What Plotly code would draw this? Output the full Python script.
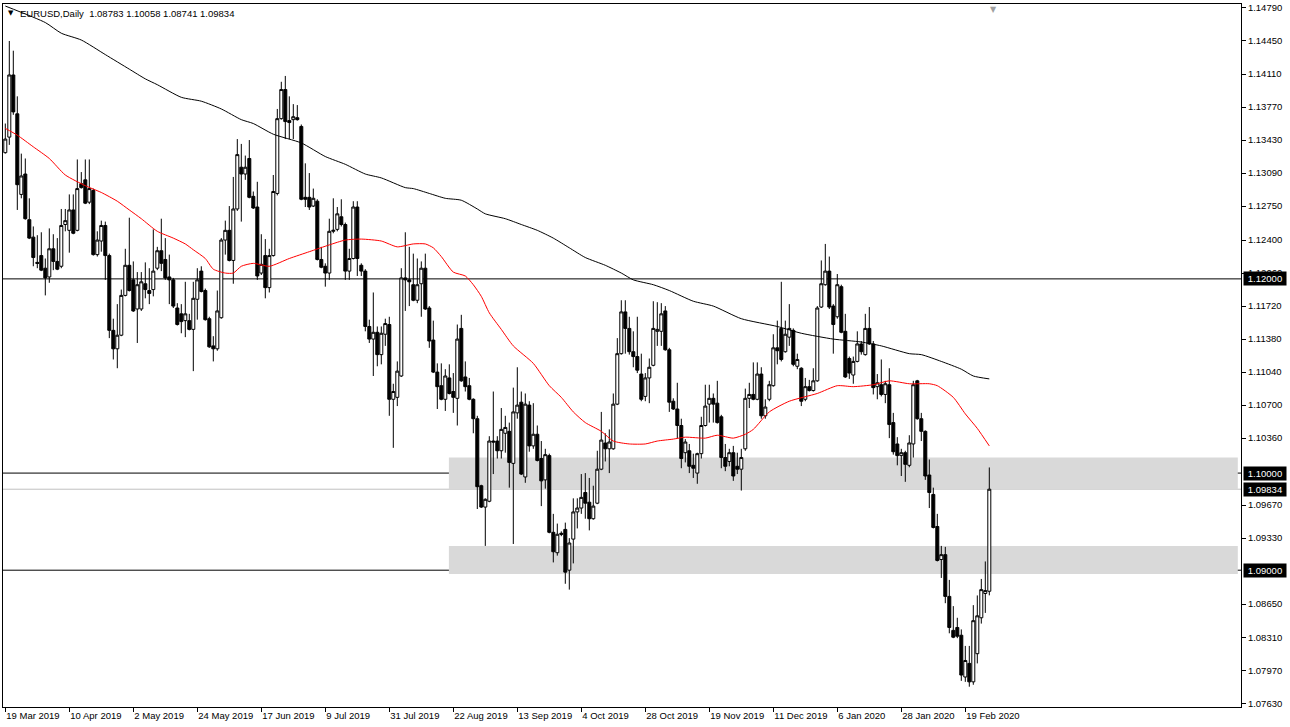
import plotly.graph_objects as go

# ---------------- data ----------------
date_labels = ["19 Mar 2019", "10 Apr 2019", "2 May 2019", "24 May 2019", "17 Jun 2019",
               "9 Jul 2019", "31 Jul 2019", "22 Aug 2019", "13 Sep 2019", "4 Oct 2019",
               "28 Oct 2019", "19 Nov 2019", "11 Dec 2019", "6 Jan 2020", "28 Jan 2020",
               "19 Feb 2020"]
date_label_bars = [0, 16, 32, 48, 64, 80, 96, 112, 128, 144, 160, 176, 192, 208, 224, 240]

opens = [
    1.1330, 1.1346, 1.1410, 1.1370, 1.1287, 1.1308, 1.1261, 1.1243, 1.1217, 1.1224,
    1.1211, 1.1202, 1.1231, 1.1218, 1.1213, 1.1256, 1.1250, 1.1271, 1.1250, 1.1298,
    1.1302, 1.1279, 1.1291, 1.1225, 1.1239, 1.1255, 1.1224, 1.1147, 1.1128, 1.1142,
    1.1183, 1.1214, 1.1199, 1.1169, 1.1169, 1.1195, 1.1188, 1.1189, 1.1211, 1.1229,
    1.1220, 1.1202, 1.1199, 1.1170, 1.1164, 1.1157, 1.1157, 1.1148, 1.1179, 1.1208,
    1.1188, 1.1159, 1.1131, 1.1128, 1.1160, 1.1240, 1.1250, 1.1219, 1.1272, 1.1315,
    1.1308, 1.1324, 1.1285, 1.1274, 1.1206, 1.1224, 1.1191, 1.1224, 1.1288, 1.1365,
    1.1395, 1.1363, 1.1364, 1.1366, 1.1357, 1.1284, 1.1284, 1.1275, 1.1280, 1.1220,
    1.1213, 1.1206, 1.1249, 1.1251, 1.1264, 1.1256, 1.1208, 1.1221, 1.1274, 1.1214,
    1.1208, 1.1151, 1.1138, 1.1145, 1.1122, 1.1143, 1.1153, 1.1076, 1.1078, 1.1100,
    1.1201, 1.1199, 1.1194, 1.1178, 1.1195, 1.1211, 1.1170, 1.1137, 1.1104, 1.1090,
    1.1076, 1.1098, 1.1084, 1.1077, 1.1149, 1.1099, 1.1090, 1.1076, 1.1056, 1.0987,
    1.0965, 1.0971, 1.1033, 1.1033, 1.1023, 1.1041, 1.1043, 1.1010, 1.1062, 1.1073,
    1.0996, 1.1070, 1.1028, 1.1040, 1.1015, 1.0993, 1.1018, 1.0939, 1.0918, 1.0938,
    1.0942, 1.0900, 1.0932, 1.0960, 1.0964, 1.0980, 1.0970, 1.0953, 1.0969, 1.1004,
    1.1031, 1.1025, 1.1025, 1.1071, 1.1123, 1.1166, 1.1149, 1.1125, 1.1120, 1.1102,
    1.1079, 1.1098, 1.1111, 1.1146, 1.1146, 1.1167, 1.1127, 1.1074, 1.1066, 1.1049,
    1.1021, 1.1023, 1.1008, 1.1000, 1.1020, 1.1049, 1.1071, 1.1077, 1.1072, 1.1058,
    1.1016, 1.1012, 1.1021, 1.1007, 1.1004, 1.1025, 1.1077, 1.1081, 1.1076, 1.1102,
    1.1059, 1.1076, 1.1090, 1.1129, 1.1149, 1.1125, 1.1140, 1.1147, 1.1110, 1.1108,
    1.1076, 1.1089, 1.1085, 1.1095, 1.1171, 1.1194, 1.1208, 1.1172, 1.1161, 1.1192,
    1.1146, 1.1118, 1.1101, 1.1115, 1.1133, 1.1122, 1.1149, 1.1133, 1.1089, 1.1091,
    1.1081, 1.1091, 1.1052, 1.1030, 1.1018, 1.1021, 1.1008, 1.1030, 1.1095, 1.1056,
    1.1043, 1.0998, 1.0978, 1.0945, 1.0911, 1.0916, 1.0873, 1.0838, 1.0841, 1.0833,
    1.0790, 1.0804, 1.0785, 1.0814, 1.0851, 1.0876, 1.08783]

highs = [
    1.1360, 1.1445, 1.1435, 1.1388, 1.1329, 1.1324, 1.1283, 1.1254, 1.1245, 1.1248,
    1.1221, 1.1252, 1.1246, 1.1242, 1.1272, 1.1272, 1.1287, 1.1287, 1.1323, 1.1310,
    1.1323, 1.1323, 1.1293, 1.1249, 1.1260, 1.1259, 1.1226, 1.1159, 1.1174, 1.1189,
    1.1231, 1.1263, 1.1218, 1.1207, 1.1207, 1.1217, 1.1211, 1.1251, 1.1233, 1.1262,
    1.1242, 1.1225, 1.1201, 1.1175, 1.1174, 1.1197, 1.1164, 1.1197, 1.1211, 1.1213,
    1.1190, 1.1161, 1.1141, 1.1188, 1.1242, 1.1260, 1.1275, 1.1305, 1.1344, 1.1339,
    1.1327, 1.1343, 1.1290, 1.1300, 1.1246, 1.1241, 1.1231, 1.1307, 1.1375, 1.1403,
    1.1409, 1.1388, 1.1380, 1.1379, 1.1359, 1.1319, 1.1309, 1.1293, 1.1282, 1.1233,
    1.1216, 1.1262, 1.1283, 1.1274, 1.1282, 1.1258, 1.1231, 1.1280, 1.1280, 1.1216,
    1.1210, 1.1158, 1.1186, 1.1151, 1.1151, 1.1159, 1.1161, 1.1092, 1.1115, 1.1211,
    1.1248, 1.1233, 1.1226, 1.1221, 1.1218, 1.1226, 1.1172, 1.1157, 1.1113, 1.1113,
    1.1107, 1.1112, 1.1103, 1.1153, 1.1163, 1.1115, 1.1098, 1.1077, 1.1059, 1.0988,
    1.0974, 1.1038, 1.1084, 1.1038, 1.1067, 1.1059, 1.1052, 1.1088, 1.1109, 1.1084,
    1.1082, 1.1074, 1.1072, 1.1049, 1.1033, 1.1025, 1.1020, 1.0958, 1.0948, 1.0940,
    1.0949, 1.0933, 1.0974, 1.0974, 1.0999, 1.1000, 1.0995, 1.0987, 1.1023, 1.1063,
    1.1041, 1.1045, 1.1082, 1.1139, 1.1178, 1.1178, 1.1161, 1.1146, 1.1161, 1.1123,
    1.1103, 1.1118, 1.1177, 1.1176, 1.1175, 1.1172, 1.1129, 1.1077, 1.1093, 1.1056,
    1.1035, 1.1030, 1.1020, 1.1021, 1.1058, 1.1091, 1.1091, 1.1082, 1.1095, 1.1060,
    1.1030, 1.1025, 1.1028, 1.1021, 1.1025, 1.1087, 1.1093, 1.1114, 1.1114, 1.1109,
    1.1076, 1.1095, 1.1143, 1.1157, 1.1197, 1.1157, 1.1174, 1.1149, 1.1123, 1.1109,
    1.1098, 1.1096, 1.1108, 1.1172, 1.1219, 1.1236, 1.1223, 1.1174, 1.1205, 1.1194,
    1.1164, 1.1120, 1.1120, 1.1146, 1.1136, 1.1164, 1.1171, 1.1136, 1.1102, 1.1117,
    1.1095, 1.1108, 1.1062, 1.1037, 1.1025, 1.1023, 1.1039, 1.1095, 1.1096, 1.1062,
    1.1044, 1.1014, 1.0985, 1.0958, 1.0925, 1.0924, 1.0890, 1.0863, 1.0851, 1.0839,
    1.0822, 1.0822, 1.0864, 1.0874, 1.0891, 1.0909, 1.10058]

lows = [
    1.1329, 1.1338, 1.1369, 1.1271, 1.1283, 1.1261, 1.1241, 1.1213, 1.1211, 1.1208,
    1.1183, 1.1196, 1.1209, 1.1209, 1.1211, 1.1249, 1.1227, 1.1246, 1.1249, 1.1293,
    1.1277, 1.1277, 1.1224, 1.1223, 1.1228, 1.1199, 1.1139, 1.1117, 1.1108, 1.1141,
    1.1182, 1.1187, 1.1166, 1.1134, 1.1167, 1.1180, 1.1174, 1.1182, 1.1209, 1.1208,
    1.1199, 1.1174, 1.1170, 1.1152, 1.1144, 1.1140, 1.1147, 1.1105, 1.1158, 1.1186,
    1.1157, 1.1129, 1.1115, 1.1126, 1.1159, 1.1225, 1.1218, 1.1195, 1.1270, 1.1259,
    1.1302, 1.1283, 1.1272, 1.1199, 1.1204, 1.1180, 1.1186, 1.1223, 1.1286, 1.1364,
    1.1344, 1.1344, 1.1344, 1.1363, 1.1281, 1.1274, 1.1271, 1.1274, 1.1219, 1.1211,
    1.1192, 1.1199, 1.1247, 1.1249, 1.1254, 1.1199, 1.1199, 1.1220, 1.1203, 1.1203,
    1.1146, 1.1134, 1.1100, 1.1110, 1.1112, 1.1131, 1.1059, 1.1026, 1.1069, 1.1099,
    1.1167, 1.1172, 1.1177, 1.1175, 1.1161, 1.1168, 1.1129, 1.1103, 1.1066, 1.1075,
    1.1064, 1.1081, 1.1062, 1.1049, 1.1094, 1.1084, 1.1075, 1.1041, 1.0963, 1.0964,
    1.0925, 1.0970, 1.0999, 1.1015, 1.1015, 1.1021, 1.0985, 1.0927, 1.1056, 1.0998,
    1.0990, 1.1022, 1.1025, 1.1012, 1.0966, 1.0984, 1.0938, 1.0908, 1.0915, 1.0935,
    1.0886, 1.0880, 1.0907, 1.0943, 1.0958, 1.0953, 1.0941, 1.0952, 1.0968, 1.1003,
    1.1012, 1.1000, 1.1024, 1.1070, 1.1122, 1.1123, 1.1122, 1.1109, 1.1103, 1.1074,
    1.1074, 1.1072, 1.1110, 1.1131, 1.1131, 1.1126, 1.1063, 1.1065, 1.1036, 1.1005,
    1.1011, 1.1000, 1.0995, 1.0989, 1.1015, 1.1048, 1.1052, 1.1052, 1.1051, 1.1005,
    1.1002, 1.1007, 1.0992, 1.0999, 1.0982, 1.1023, 1.1067, 1.1075, 1.1075, 1.1056,
    1.1056, 1.1074, 1.1089, 1.1112, 1.1115, 1.1124, 1.1131, 1.1110, 1.1107, 1.1069,
    1.1074, 1.1084, 1.1084, 1.1094, 1.1170, 1.1193, 1.1169, 1.1123, 1.1159, 1.1144,
    1.1098, 1.1097, 1.1092, 1.1114, 1.1122, 1.1121, 1.1132, 1.1081, 1.1076, 1.1079,
    1.1072, 1.1036, 1.1019, 1.1008, 1.0997, 1.0991, 1.1006, 1.1016, 1.1055, 1.1033,
    1.0993, 1.0964, 1.0943, 1.0909, 1.0892, 1.0866, 1.0835, 1.0830, 1.0830, 1.0786,
    1.0785, 1.0780, 1.0782, 1.0804, 1.0845, 1.0856, 1.08741]

closes = [
    1.1344, 1.1410, 1.1372, 1.1297, 1.1306, 1.1262, 1.1242, 1.1222, 1.1216, 1.1209,
    1.1201, 1.1231, 1.1218, 1.1210, 1.1255, 1.1260, 1.1271, 1.1247, 1.1293, 1.1294,
    1.1278, 1.1293, 1.1225, 1.1240, 1.1255, 1.1224, 1.1147, 1.1128, 1.1142, 1.1183,
    1.1214, 1.1188, 1.1167, 1.1194, 1.1197, 1.1189, 1.1185, 1.1208, 1.1229, 1.1216,
    1.1201, 1.1199, 1.1172, 1.1153, 1.1156, 1.1164, 1.1148, 1.1180, 1.1199, 1.1187,
    1.1158, 1.1130, 1.1128, 1.1167, 1.1240, 1.1250, 1.1219, 1.1272, 1.1328, 1.1308,
    1.1315, 1.1284, 1.1273, 1.1203, 1.1215, 1.1191, 1.1224, 1.1290, 1.1365, 1.1395,
    1.1362, 1.1361, 1.1367, 1.1364, 1.1282, 1.1282, 1.1274, 1.1283, 1.1220, 1.1212,
    1.1206, 1.1249, 1.1250, 1.1267, 1.1256, 1.1208, 1.1221, 1.1274, 1.1221, 1.1208,
    1.1151, 1.1138, 1.1145, 1.1122, 1.1144, 1.1154, 1.1076, 1.1084, 1.1105, 1.1201,
    1.1199, 1.1197, 1.1178, 1.1194, 1.1211, 1.1169, 1.1136, 1.1104, 1.1089, 1.1076,
    1.1100, 1.1082, 1.1078, 1.1138, 1.1095, 1.1089, 1.1076, 1.1056, 1.0986, 1.0965,
    1.0973, 1.1033, 1.1032, 1.1023, 1.1045, 1.1047, 1.1011, 1.1063, 1.1070, 1.0999,
    1.1071, 1.1028, 1.1040, 1.1013, 1.0992, 1.1019, 1.0939, 1.0919, 1.0937, 1.0937,
    1.0898, 1.0928, 1.0960, 1.0964, 1.0975, 1.0969, 1.0953, 1.0966, 1.1004, 1.1034,
    1.1025, 1.1032, 1.1071, 1.1123, 1.1166, 1.1149, 1.1125, 1.1120, 1.1106, 1.1076,
    1.1098, 1.1109, 1.1149, 1.1148, 1.1164, 1.1127, 1.1073, 1.1066, 1.1049, 1.1015,
    1.1032, 1.1007, 1.1005, 1.1020, 1.1049, 1.1069, 1.1077, 1.1071, 1.1052, 1.1016,
    1.1007, 1.1021, 1.0997, 1.1004, 1.1016, 1.1077, 1.1081, 1.1076, 1.1102, 1.1059,
    1.1068, 1.1091, 1.1129, 1.1126, 1.1117, 1.1143, 1.1149, 1.1112, 1.1117, 1.1074,
    1.1089, 1.1085, 1.1095, 1.1170, 1.1195, 1.1208, 1.1171, 1.1153, 1.1194, 1.1145,
    1.1099, 1.1103, 1.1115, 1.1133, 1.1125, 1.1149, 1.1133, 1.1088, 1.1093, 1.1081,
    1.1092, 1.1050, 1.1022, 1.1018, 1.1021, 1.1009, 1.1031, 1.1091, 1.1056, 1.1043,
    1.0997, 1.0980, 1.0944, 1.0910, 1.0916, 1.0873, 1.0841, 1.0831, 1.0832, 1.0792,
    1.0807, 1.0785, 1.0848, 1.0853, 1.0880, 1.0879, 1.09834]

# slow moving average (black) sampled at bar positions
ma_slow_bars = [0, 10, 14, 19, 25, 31, 35, 38, 44, 49, 54, 59, 62, 67, 74, 80, 85, 90, 94, 100,
                102, 106, 110, 114, 118, 120, 125, 129, 133, 137, 141, 145, 150, 154, 157, 162,
                166, 172, 177, 184, 193, 199, 207, 214, 219, 226, 229, 234, 239, 242, 246]
ma_slow_vals = [1.1481, 1.1464, 1.1453, 1.1446, 1.1431, 1.1416, 1.1406, 1.1400, 1.1387, 1.1383,
                1.1375, 1.1364, 1.1360, 1.1349, 1.1340, 1.1326, 1.1318, 1.1308, 1.1304, 1.1294,
                1.1293, 1.1288, 1.1283, 1.1281, 1.1272, 1.1267, 1.1262, 1.1256, 1.1250, 1.1242,
                1.1232, 1.1222, 1.1214, 1.1206, 1.1199, 1.1194, 1.1188, 1.1177, 1.1172, 1.1159,
                1.1151, 1.1144, 1.1138, 1.1135, 1.1131, 1.1123, 1.1122, 1.1115, 1.1107, 1.1100,
                1.1097]

# fast moving average (red)
ma_fast_bars = [0, 3, 7, 11, 15, 20, 24, 28, 31, 34, 38, 42, 45, 47, 50, 52, 55, 57, 59, 62,
                66, 71, 76, 81, 85, 89, 94, 98, 102, 105, 107, 109, 112, 115, 117, 119, 121, 124,
                127, 132, 136, 139, 142, 145, 149, 152, 156, 160, 163, 167, 170, 175, 178, 182,
                185, 187, 191, 196, 203, 208, 212, 217, 221, 226, 231, 233, 237, 240, 243, 246]
ma_fast_vals = [1.1355, 1.1348, 1.1336, 1.1324, 1.1307, 1.1296, 1.1289, 1.1280, 1.1271, 1.1262,
                1.1249, 1.1242, 1.1236, 1.1230, 1.1221, 1.1210, 1.1206, 1.1206, 1.1213, 1.1216,
                1.1213, 1.1221, 1.1228, 1.1235, 1.1240, 1.1241, 1.1239, 1.1233, 1.1236, 1.1236,
                1.1232, 1.1223, 1.1207, 1.1203, 1.1194, 1.1182, 1.1165, 1.1148, 1.1131, 1.1113,
                1.1090, 1.1078, 1.1063, 1.1052, 1.1043, 1.1033, 1.1030, 1.1030, 1.1033, 1.1035,
                1.1037, 1.1036, 1.1039, 1.1036, 1.1040, 1.1045, 1.1063, 1.1074, 1.1082, 1.1090,
                1.1089, 1.1091, 1.1095, 1.1092, 1.1092, 1.1090, 1.1078, 1.1061, 1.1046, 1.1028]

price_ticks = [1.14790, 1.14450, 1.14110, 1.13770, 1.13430, 1.13090, 1.12750, 1.12400,
               1.12060, 1.11720, 1.11380, 1.11040, 1.10700, 1.10360, 1.09670,
               1.09330, 1.08650, 1.08310, 1.07970, 1.07630]

levels = [1.12000, 1.10000, 1.09000]
bid_price = 1.09834
zone_lows = [1.0983, 1.0896]
zone_highs = [1.1016, 1.0925]
zone_start_bar = 110.9

header = "EURUSD,Daily  1.08783 1.10058 1.08741 1.09834"

# ---------------- figure ----------------
FONT = "Liberation Sans"
FS = 9.5
bars = list(range(len(closes)))
x_min, x_max = -0.575, 308.925
y_min, y_max = 1.07591, 1.14831

fig = go.Figure()

fig.add_trace(go.Candlestick(
    x=bars, open=opens, high=highs, low=lows, close=closes,
    increasing=dict(line=dict(color="black", width=1), fillcolor="white"),
    decreasing=dict(line=dict(color="black", width=1), fillcolor="black"),
    whiskerwidth=0, showlegend=False, hoverinfo="skip"))

fig.add_trace(go.Scatter(x=ma_slow_bars, y=ma_slow_vals, mode="lines",
                         line=dict(color="black", width=1, shape="spline", smoothing=0.6),
                         showlegend=False, hoverinfo="skip"))
fig.add_trace(go.Scatter(x=ma_fast_bars, y=ma_fast_vals, mode="lines",
                         line=dict(color="#ff0000", width=1, shape="spline", smoothing=0.6),
                         showlegend=False, hoverinfo="skip"))

shapes = []
for lo, hi in zip(zone_lows, zone_highs):
    shapes.append(dict(type="rect", xref="x", yref="y", x0=zone_start_bar, x1=x_max - 0.8,
                       y0=lo, y1=hi, fillcolor="#d9d9d9", line=dict(width=0), layer="below"))
shapes.append(dict(type="line", xref="paper", yref="y", x0=0, x1=1, y0=bid_price, y1=bid_price,
                   line=dict(color="#c0c0c0", width=1), layer="below"))
for lv in levels:
    shapes.append(dict(type="line", xref="paper", yref="y", x0=0, x1=1, y0=lv, y1=lv,
                       line=dict(color="black", width=1), layer="below"))

annotations = []
for lv in levels + [bid_price]:
    annotations.append(dict(xref="paper", yref="y", x=1, y=lv, xanchor="left", yanchor="middle",
                            xshift=2, text=f"{lv:.5f}", showarrow=False, bgcolor="black",
                            width=40, height=11, align="center",
                            font=dict(family=FONT, size=FS, color="white"), borderpad=1))
annotations.append(dict(xref="paper", yref="paper", x=0, y=1, xanchor="left", yanchor="top",
                        xshift=3, yshift=-3, text="▼", showarrow=False,
                        font=dict(family="DejaVu Sans", size=7, color="black")))
annotations.append(dict(xref="paper", yref="paper", x=0, y=1, xanchor="left", yanchor="top",
                        xshift=15, yshift=-2, text=header, showarrow=False,
                        font=dict(family=FONT, size=FS, color="black")))
annotations.append(dict(xref="x", yref="paper", x=247, y=1, xanchor="center", yanchor="top",
                        yshift=1, text="▼", showarrow=False,
                        font=dict(family="DejaVu Sans", size=8, color="#a0a0a0")))

fig.update_layout(
    width=1290, height=727,
    margin=dict(l=3, r=49, t=2, b=20),
    paper_bgcolor="white", plot_bgcolor="white",
    boxgap=0.25, boxgroupgap=0,
    shapes=shapes, annotations=annotations,
    xaxis=dict(range=[x_min, x_max], rangeslider=dict(visible=False),
               tickvals=date_label_bars, ticktext=date_labels,
               ticks="outside", ticklen=4, tickcolor="black",
               ticklabelposition="outside right",
               tickfont=dict(family=FONT, size=FS, color="black"),
               showline=True, linecolor="black", mirror=True,
               showgrid=False, zeroline=False, fixedrange=True),
    yaxis=dict(range=[y_min, y_max], side="right",
               tickvals=price_ticks, ticktext=[f"{p:.5f}" for p in price_ticks],
               ticks="outside", ticklen=4, tickcolor="black",
               tickfont=dict(family=FONT, size=FS, color="black"),
               showline=True, linecolor="black", mirror=True,
               showgrid=False, zeroline=False, fixedrange=True),
)

fig.write_html("out.html", config={"displayModeBar": False},
               post_script="document.body.style.margin='0';document.body.style.overflow='hidden';")
